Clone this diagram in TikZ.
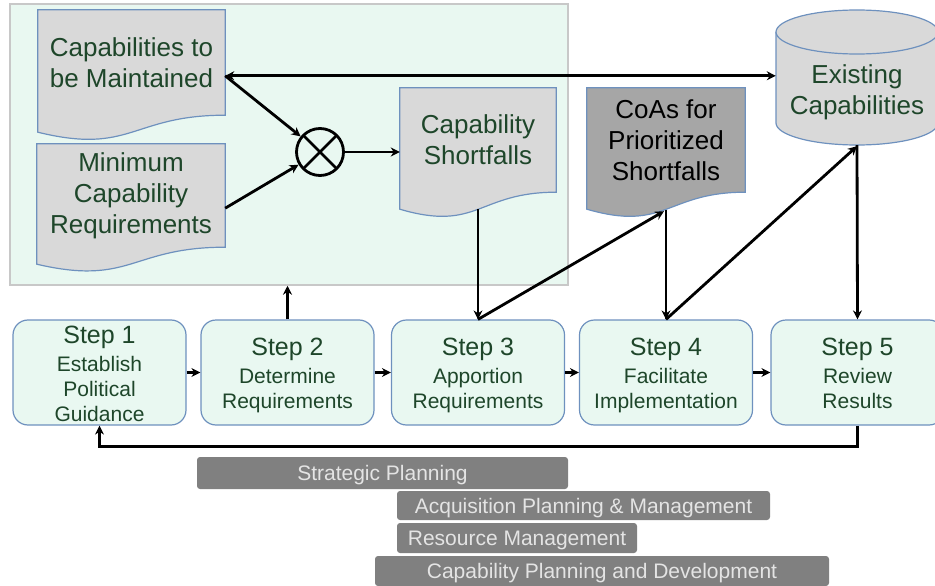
\documentclass[tikz,border=0pt]{standalone}
\usepackage{fontspec}
\setmainfont{Liberation Sans}
\usetikzlibrary{arrows.meta,calc}
\definecolor{txtgreen}{RGB}{30,70,42}
\definecolor{panelfill}{RGB}{233,248,241}
\definecolor{panelline}{RGB}{200,200,200}
\definecolor{docfill}{RGB}{217,217,217}
\definecolor{docline}{RGB}{110,145,190}
\definecolor{coafill}{RGB}{166,166,166}
\definecolor{barfill}{RGB}{128,128,128}
\definecolor{bartext}{RGB}{228,228,228}
\pgfdeclarelayer{background}
\pgfsetlayers{background,main}
\newcommand\docwave[4]{%
  \begin{pgfonlayer}{background}
  \filldraw[draw=docline, line width=1.2pt, fill=#4] (#1.north west) -- (#1.north east) -- (#1.south east)
    .. controls (#1.south) and ($(#1.south)+(0,#3)$) .. ($(#1.south west)+(0,#2)$) -- cycle;
  \end{pgfonlayer}}
\newcommand\steptext[3]{% title, lines, lowering
  \raisebox{-#3}[\height][\depth]{\begin{tabular}{@{}c@{}}{\fontsize{25}{28}\selectfont #1}\\[3pt]#2\end{tabular}}}
\begin{document}
\begin{tikzpicture}[x=1pt,y=-1pt,
  docbox/.style={inner sep=0pt, align=center, text=txtgreen, font=\fontsize{26}{31}\selectfont},
  stepbox/.style={draw=docline, fill=panelfill, rounded corners=15pt, line width=1.2pt,
    minimum width=173pt, minimum height=105pt, inner sep=0pt, text=txtgreen,
    font=\fontsize{21}{25}\selectfont},
  barbox/.style={fill=barfill, rounded corners=3pt, minimum height=30pt, inner sep=0pt,
    text height=16pt, text depth=1pt, text=bartext, font=\fontsize{21}{24}\selectfont},
  conn/.style={line width=2.8pt, -{Stealth[length=9pt,width=9pt]}},
  conn2/.style={line width=2.8pt, {Stealth[length=9pt,width=9pt]}-{Stealth[length=9pt,width=9pt]}},
]
\useasboundingbox (0,0) rectangle (935,586);

% panel
\begin{pgfonlayer}{background}
\node[draw=panelline, fill=panelfill, line width=1.5pt, minimum width=558pt, minimum height=281pt, inner sep=0pt] (panel) at (289,144.5) {};
\end{pgfonlayer}

% documents
\node[docbox, align=left, minimum width=187pt, minimum height=105pt] (maint) at (131.5,62.5) {Capabilities to\\be Maintained};
\docwave{maint}{17}{40}{docfill}
\node[docbox, minimum width=188pt, minimum height=103pt] (minreq) at (131,195.5) {Minimum\\Capability\\Requirements};
\docwave{minreq}{17}{39}{docfill}
\node[docbox, minimum width=156pt, minimum height=104pt] (capshort) at (478,140) {Capability\\Shortfalls};
\docwave{capshort}{17}{40}{docfill}
\node[docbox, text=black, minimum width=158pt, minimum height=104pt] (coas) at (666,140) {CoAs for\\Prioritized\\Shortfalls};
\docwave{coas}{17}{40}{coafill}

% cylinder
\begin{pgfonlayer}{background}
\filldraw[draw=docline, line width=1.2pt, fill=docfill] (776,32) -- (776,123)
  .. controls (776,135.1) and (812.3,145) .. (857,145)
  .. controls (901.7,145) and (938,135.1) .. (938,123) -- (938,32);
\filldraw[draw=docline, line width=1.2pt, fill=docfill] (857,32) ellipse [x radius=81, y radius=22];
\end{pgfonlayer}
\node[docbox, minimum width=162pt, minimum height=68pt] (exist) at (857,92) {Existing\\Capabilities};

% multiplier
\node[draw, circle, line width=2.8pt, minimum size=47pt, inner sep=0pt,
  path picture={\draw[line width=2.8pt] (path picture bounding box.north west) -- (path picture bounding box.south east)
    (path picture bounding box.north east) -- (path picture bounding box.south west);}] (mult) at (320,152) {};

% steps
\node[stepbox] (s1) at (99.5,372.5) {\steptext{Step 1}{Establish\\Political\\Guidance}{4.5pt}};
\node[stepbox] (s2) at (287.5,372.5) {\steptext{Step 2}{Determine\\Requirements}{4.5pt}};
\node[stepbox] (s3) at (478,372.5) {\steptext{Step 3}{Apportion\\Requirements}{4.5pt}};
\node[stepbox] (s4) at (666,372.5) {\steptext{Step 4}{Facilitate\\Implementation}{4.5pt}};
\node[stepbox] (s5) at (857.5,372.5) {\steptext{Step 5}{Review\\Results}{4.5pt}};

% bars
\node[barbox, minimum width=371pt, minimum height=32pt] (b1) at (382.5,473) {Strategic Planning};
\node[barbox, minimum width=373pt, minimum height=29pt] (b2) at (583.5,505.5) {Acquisition Planning \& Management};
\node[barbox, minimum width=240pt] (b3) at (517,538) {Resource Management};
\node[barbox, minimum width=454pt] (b4) at (602,571) {Capability Planning and Development};

% connectors
\draw[conn2] ($(maint.north east)+(0,66)$) -- ($(exist.north west)+(0,18)$);
\draw[conn] ($(maint.north east)+(0,66)$) -- (mult);
\draw[conn] ($(minreq.south east)+(0,-39)$) -- (mult);
\draw[conn] (mult.east) -- (mult.east -| capshort.west);
\draw[conn] ($(capshort.south)+(0,17)$) -- (s3.north);
\draw[conn] (s3.north) -- ($(coas.south)+(-2,19)$);
\draw[conn] ($(coas.south)+(0,18)$) -- (s4.north);
\draw[conn] (s4.north) -- ($(exist.south)+(0,20)$);
\draw[conn] ($(exist.south)+(0,19)$) -- (s5.north);
\draw[conn] (s1.east) -- (s2.west);
\draw[conn] (s2.east) -- (s3.west);
\draw[conn] (s3.east) -- (s4.west);
\draw[conn] (s4.east) -- (s5.west);
\draw[conn] (s2.north) -- (s2.north |- panel.south);
\draw[conn] (s5.south) -- ++(0,21) -| (s1.south);
\end{tikzpicture}
\end{document}
